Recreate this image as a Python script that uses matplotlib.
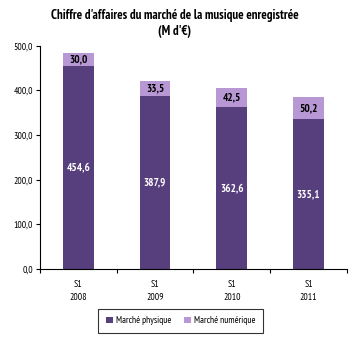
import matplotlib.pyplot as plt

periods = ["S1\n2008", "S1\n2009", "S1\n2010", "S1\n2011"]
physique = [454.6, 387.9, 362.6, 335.1]
numerique = [30.0, 33.5, 42.5, 50.2]
y_ticks = [0, 100, 200, 300, 400, 500]

dark = "#573e7d"
light = "#b898d4"
plt.rcParams["font.family"] = ["PT Sans Narrow", "DejaVu Sans"]


def fr(v):
    return f"{v:.1f}".replace(".", ",")


fig = plt.figure(figsize=(3.5, 3.37), dpi=100)
ax = fig.add_axes([0.114, 0.202, 0.877, 0.662])

x = list(range(len(periods)))
b1 = ax.bar(x, physique, width=0.4, color=dark, label="Marché physique")
b2 = ax.bar(x, numerique, width=0.4, bottom=physique, color=light, label="Marché numérique")

for i in x:
    ax.text(i, physique[i] / 2, fr(physique[i]), ha="center", va="center",
            color="white", fontsize=8, fontweight="bold")
    ax.text(i, physique[i] + numerique[i] / 2, fr(numerique[i]), ha="center", va="center",
            color="black", fontsize=8, fontweight="bold")

ax.set_xlim(-0.5, len(periods) - 0.5)
ax.set_ylim(0, 500)
ax.set_yticks(y_ticks)
ax.set_yticklabels([fr(v) for v in y_ticks], fontsize=7)
ax.set_xticks([i - 0.5 for i in range(len(periods) + 1)])
ax.set_xticklabels([])
ax.set_xticks(x, minor=True)
ax.set_xticklabels(periods, minor=True, fontsize=7, linespacing=1.55)
ax.tick_params(axis="x", which="minor", length=0, pad=8)
ax.tick_params(axis="x", which="major", length=3, width=0.8)
ax.tick_params(axis="y", length=3, width=0.8, pad=2)
ax.spines["top"].set_visible(False)
ax.spines["right"].set_visible(False)
ax.spines["left"].set_linewidth(0.8)
ax.spines["bottom"].set_linewidth(0.8)

fig.text(0.5, 0.953, "Chiffre d'affaires du marché de la musique enregistrée",
         ha="center", va="center", fontsize=9.3, fontweight="bold")
fig.text(0.5, 0.906, "(M d'€)", ha="center", va="center", fontsize=9.3, fontweight="bold")

leg = fig.legend(handles=[b1, b2], loc="center", bbox_to_anchor=(0.517, 0.048), ncol=2,
                 fontsize=6.8, frameon=True, fancybox=False, edgecolor="black",
                 handlelength=0.7, handleheight=0.7, handletextpad=0.4, columnspacing=1.3,
                 borderpad=0.8)
leg.get_frame().set_linewidth(0.8)

fig.savefig("out.png", dpi=100)
